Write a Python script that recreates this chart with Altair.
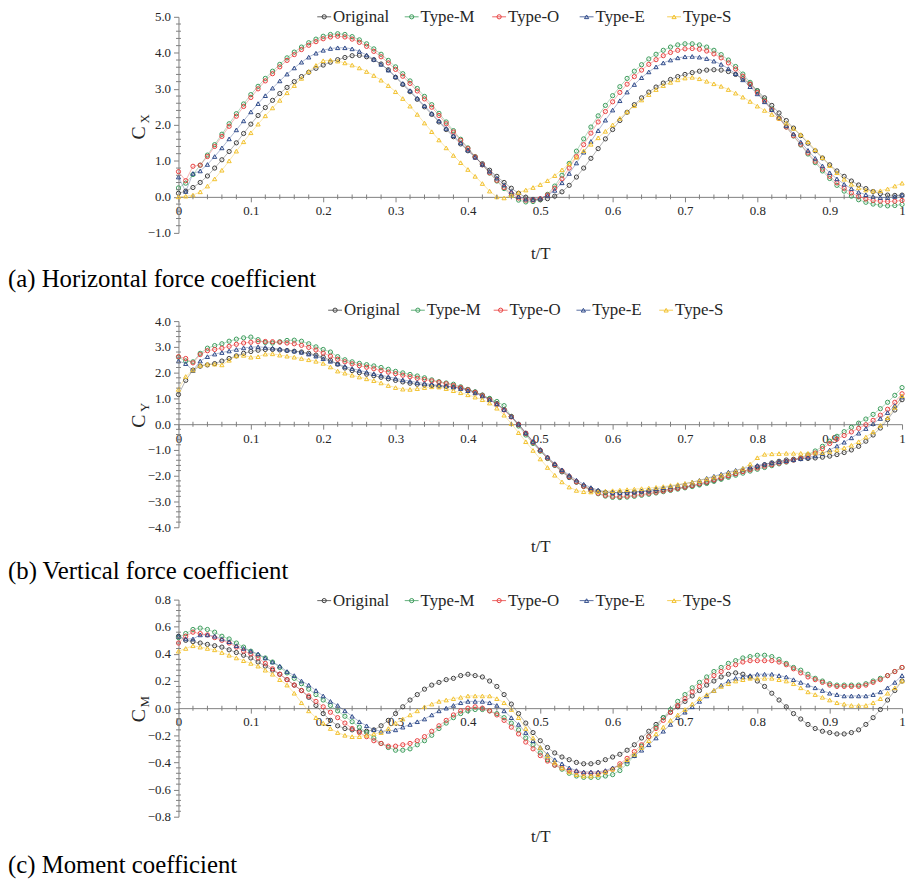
import altair as alt
import pandas as pd

# ------------------------------------------------------------------ data
T = [round(i * 0.01, 2) for i in range(101)]
SERIES = ["Original", "Type-M", "Type-O", "Type-E", "Type-S"]
COLORS = ["#3d3d3d", "#3c9c5b", "#e8403f", "#2f4a8a", "#f2c12e"]
SHAPES = ["circle", "circle", "circle", "triangle-up", "triangle-up"]
LEGEND_IDX = [0, 1, 2, 3, 4]

X_TICKS = [0, 0.1, 0.2, 0.3, 0.4, 0.5, 0.6, 0.7, 0.8, 0.9, 1.0]
X_MINOR = [round(i * 0.02, 2) for i in range(51) if i % 5]

CX_TICKS = [-1, 0, 1, 2, 3, 4, 5]
CX_MINOR = [round(-1 + i * 0.2, 2) for i in range(31) if i % 5]
CY_TICKS = [-4, -3, -2, -1, 0, 1, 2, 3, 4]
CY_MINOR = [round(-4 + i * 0.2, 2) for i in range(41) if i % 5]
CM_TICKS = [-0.8, -0.6, -0.4, -0.2, 0, 0.2, 0.4, 0.6, 0.8]
CM_MINOR = [round(-0.8 + i * 0.04, 2) for i in range(41) if i % 5]

# (a) horizontal force coefficient C_X
CX_ORIGINAL = [0.10, 0.16, 0.26, 0.40, 0.58, 0.80, 1.03, 1.26, 1.50, 1.76,
               2.02, 2.26, 2.48, 2.68, 2.87, 3.04, 3.20, 3.34, 3.46, 3.57,
               3.66, 3.74, 3.81, 3.87, 3.92, 3.93, 3.89, 3.81, 3.69, 3.53,
               3.32, 3.12, 2.92, 2.71, 2.50, 2.29, 2.08, 1.87, 1.67, 1.47,
               1.28, 1.10, 0.92, 0.74, 0.57, 0.40, 0.24, 0.10, -0.01, -0.07,
               -0.08, -0.05, 0.02, 0.14, 0.32, 0.55, 0.80, 1.07, 1.34, 1.61,
               1.87, 2.12, 2.35, 2.56, 2.75, 2.91, 3.05, 3.16, 3.26, 3.34,
               3.40, 3.45, 3.49, 3.52, 3.53, 3.52, 3.48, 3.40, 3.28, 3.13,
               2.95, 2.75, 2.54, 2.33, 2.12, 1.91, 1.70, 1.49, 1.28, 1.08,
               0.89, 0.72, 0.57, 0.44, 0.33, 0.23, 0.15, 0.09, 0.05, 0.04,
               0.05]
CX_TYPE_M = [0.25, 0.38, 0.62, 0.88, 1.16, 1.45, 1.74, 2.03, 2.31, 2.58,
             2.84, 3.07, 3.29, 3.49, 3.68, 3.86, 4.02, 4.16, 4.28, 4.38,
             4.46, 4.51, 4.53, 4.51, 4.45, 4.36, 4.25, 4.11, 3.96, 3.79,
             3.61, 3.42, 3.22, 3.01, 2.79, 2.56, 2.32, 2.08, 1.84, 1.60,
             1.36, 1.12, 0.89, 0.66, 0.44, 0.23, 0.04, -0.09, -0.14, -0.13,
             -0.07, 0.07, 0.30, 0.60, 0.93, 1.27, 1.61, 1.94, 2.25, 2.54,
             2.81, 3.06, 3.29, 3.49, 3.67, 3.83, 3.96, 4.07, 4.16, 4.22,
             4.25, 4.25, 4.22, 4.16, 4.07, 3.95, 3.80, 3.62, 3.41, 3.18,
             2.94, 2.69, 2.44, 2.19, 1.94, 1.69, 1.44, 1.19, 0.95, 0.72,
             0.51, 0.32, 0.16, 0.02, -0.08, -0.15, -0.20, -0.23, -0.25, -0.24,
             -0.21]
CX_TYPE_O = [0.70, 0.45, 0.85, 0.88, 1.12, 1.40, 1.68, 1.96, 2.24, 2.51,
             2.76, 3.00, 3.22, 3.42, 3.61, 3.79, 3.95, 4.09, 4.21, 4.31,
             4.39, 4.44, 4.46, 4.44, 4.38, 4.29, 4.18, 4.04, 3.89, 3.72,
             3.54, 3.35, 3.15, 2.94, 2.72, 2.49, 2.26, 2.03, 1.80, 1.57,
             1.34, 1.11, 0.89, 0.67, 0.46, 0.26, 0.09, -0.03, -0.09, -0.09,
             -0.05, 0.05, 0.24, 0.50, 0.80, 1.12, 1.45, 1.77, 2.08, 2.37,
             2.64, 2.90, 3.13, 3.34, 3.52, 3.68, 3.81, 3.92, 4.01, 4.07,
             4.11, 4.12, 4.10, 4.05, 3.97, 3.86, 3.72, 3.55, 3.35, 3.13,
             2.90, 2.66, 2.42, 2.18, 1.94, 1.70, 1.46, 1.22, 0.99, 0.77,
             0.57, 0.39, 0.24, 0.11, 0.01, -0.06, -0.10, -0.12, -0.13, -0.12,
             -0.10]
CX_TYPE_E = [0.55, 0.15, 0.65, 0.72, 0.90, 1.12, 1.36, 1.61, 1.86, 2.11,
             2.36, 2.59, 2.81, 3.02, 3.22, 3.41, 3.58, 3.74, 3.88, 3.99,
             4.07, 4.12, 4.14, 4.14, 4.11, 4.04, 3.94, 3.82, 3.68, 3.52,
             3.34, 3.15, 2.95, 2.74, 2.53, 2.32, 2.11, 1.90, 1.70, 1.50,
             1.30, 1.10, 0.90, 0.71, 0.52, 0.33, 0.15, 0.01, -0.06, -0.07,
             -0.04, 0.04, 0.18, 0.39, 0.65, 0.94, 1.24, 1.54, 1.84, 2.13,
             2.41, 2.67, 2.91, 3.12, 3.31, 3.47, 3.61, 3.72, 3.80, 3.86,
             3.89, 3.90, 3.88, 3.84, 3.77, 3.68, 3.56, 3.42, 3.25, 3.06,
             2.86, 2.64, 2.42, 2.20, 1.98, 1.75, 1.52, 1.29, 1.07, 0.86,
             0.67, 0.50, 0.35, 0.23, 0.13, 0.06, 0.01, -0.02, -0.02, 0.01,
             0.05]
CX_TYPE_S = [0.00, 0.02, 0.05, 0.14, 0.30, 0.50, 0.74, 1.00, 1.27, 1.53,
             1.78, 2.02, 2.25, 2.47, 2.68, 2.89, 3.09, 3.29, 3.48, 3.65,
             3.78, 3.80, 3.77, 3.72, 3.66, 3.58, 3.48, 3.37, 3.24, 3.09,
             2.92, 2.73, 2.52, 2.29, 2.05, 1.81, 1.58, 1.36, 1.15, 0.95,
             0.76, 0.57, 0.37, 0.16, 0.00, -0.03, 0.04, 0.12, 0.19, 0.26,
             0.34, 0.45, 0.59, 0.75, 0.92, 1.10, 1.28, 1.46, 1.64, 1.82,
             2.00, 2.18, 2.36, 2.53, 2.69, 2.84, 2.98, 3.09, 3.18, 3.25,
             3.30, 3.32, 3.28, 3.21, 3.14, 3.07, 2.98, 2.88, 2.77, 2.65,
             2.52, 2.40, 2.29, 2.18, 2.05, 1.90, 1.73, 1.53, 1.31, 1.09,
             0.87, 0.67, 0.49, 0.35, 0.25, 0.19, 0.16, 0.17, 0.22, 0.30,
             0.38]

# (b) vertical force coefficient C_Y
CY_ORIGINAL = [1.15, 1.70, 2.10, 2.25, 2.30, 2.35, 2.45, 2.55, 2.65, 2.75,
               2.82, 2.87, 2.90, 2.90, 2.88, 2.86, 2.83, 2.80, 2.75, 2.68,
               2.60, 2.48, 2.33, 2.18, 2.08, 2.00, 1.94, 1.88, 1.82, 1.76,
               1.70, 1.64, 1.59, 1.55, 1.52, 1.50, 1.48, 1.46, 1.44, 1.40,
               1.34, 1.25, 1.13, 0.98, 0.80, 0.57, 0.30, 0.00, -0.35, -0.70,
               -1.02, -1.32, -1.60, -1.85, -2.07, -2.25, -2.40, -2.52, -2.60, -2.65,
               -2.66, -2.66, -2.65, -2.64, -2.62, -2.60, -2.58, -2.55, -2.52, -2.48,
               -2.44, -2.39, -2.33, -2.26, -2.18, -2.10, -2.01, -1.92, -1.83, -1.74,
               -1.65, -1.57, -1.50, -1.44, -1.39, -1.36, -1.34, -1.33, -1.31, -1.28,
               -1.24, -1.18, -1.10, -1.00, -0.86, -0.66, -0.42, -0.15, 0.18, 0.55,
               0.95]
CY_TYPE_M = [2.60, 2.45, 2.42, 2.75, 2.95, 3.05, 3.12, 3.22, 3.30, 3.35,
             3.38, 3.28, 3.17, 3.15, 3.20, 3.25, 3.26, 3.22, 3.12, 3.00,
             2.90, 2.80, 2.62, 2.50, 2.42, 2.36, 2.31, 2.26, 2.20, 2.13,
             2.05, 1.99, 1.93, 1.87, 1.80, 1.72, 1.65, 1.60, 1.55, 1.45,
             1.35, 1.25, 1.12, 1.00, 0.88, 0.72, 0.30, -0.07, -0.42, -0.75,
             -1.05, -1.33, -1.58, -1.82, -2.04, -2.24, -2.42, -2.58, -2.70, -2.79,
             -2.84, -2.85, -2.83, -2.80, -2.76, -2.72, -2.67, -2.62, -2.57, -2.52,
             -2.47, -2.42, -2.36, -2.30, -2.22, -2.14, -2.06, -1.98, -1.90, -1.82,
             -1.75, -1.68, -1.61, -1.54, -1.47, -1.39, -1.30, -1.18, -1.04, -0.86,
             -0.66, -0.47, -0.29, -0.12, 0.04, 0.20, 0.38, 0.60, 0.85, 1.12,
             1.42]
CY_TYPE_O = [2.62, 2.55, 2.38, 2.70, 2.85, 2.90, 2.95, 3.02, 3.10, 3.15,
             3.18, 3.20, 3.21, 3.20, 3.18, 3.15, 3.12, 3.06, 2.98, 2.88,
             2.76, 2.64, 2.52, 2.42, 2.34, 2.27, 2.21, 2.15, 2.08, 2.02,
             1.96, 1.90, 1.84, 1.78, 1.73, 1.68, 1.63, 1.57, 1.50, 1.42,
             1.33, 1.23, 1.10, 0.95, 0.77, 0.55, 0.28, -0.02, -0.36, -0.70,
             -1.02, -1.31, -1.57, -1.81, -2.03, -2.23, -2.41, -2.56, -2.68, -2.76,
             -2.80, -2.81, -2.79, -2.76, -2.72, -2.68, -2.64, -2.59, -2.54, -2.49,
             -2.44, -2.38, -2.31, -2.24, -2.16, -2.08, -2.00, -1.92, -1.84, -1.77,
             -1.70, -1.63, -1.57, -1.51, -1.45, -1.39, -1.32, -1.23, -1.12, -0.95,
             -0.75, -0.58, -0.44, -0.30, -0.16, -0.02, 0.15, 0.35, 0.58, 0.85,
             1.18]
CY_TYPE_E = [2.45, 2.35, 2.08, 2.45, 2.62, 2.72, 2.78, 2.84, 2.90, 2.96,
             2.99, 3.00, 2.98, 2.95, 2.92, 2.88, 2.84, 2.79, 2.72, 2.64,
             2.54, 2.44, 2.34, 2.24, 2.16, 2.09, 2.02, 1.96, 1.90, 1.84,
             1.78, 1.72, 1.67, 1.62, 1.58, 1.54, 1.51, 1.48, 1.44, 1.38,
             1.30, 1.21, 1.09, 0.95, 0.78, 0.57, 0.30, 0.00, -0.34, -0.67,
             -0.98, -1.27, -1.53, -1.77, -1.98, -2.17, -2.33, -2.46, -2.56, -2.62,
             -2.65, -2.66, -2.65, -2.63, -2.60, -2.56, -2.51, -2.46, -2.41, -2.36,
             -2.31, -2.25, -2.18, -2.10, -2.02, -1.94, -1.86, -1.79, -1.72, -1.66,
             -1.60, -1.55, -1.50, -1.46, -1.42, -1.38, -1.34, -1.29, -1.23, -1.14,
             -1.00, -0.85, -0.70, -0.53, -0.35, -0.17, 0.02, 0.22, 0.45, 0.72,
             1.05]
CY_TYPE_S = [1.35, 1.85, 2.10, 2.28, 2.33, 2.33, 2.30, 2.48, 2.65, 2.67,
             2.60, 2.62, 2.72, 2.73, 2.68, 2.64, 2.60, 2.55, 2.50, 2.44,
             2.36, 2.22, 2.06, 1.98, 1.90, 1.83, 1.76, 1.69, 1.60, 1.50,
             1.42, 1.36, 1.35, 1.38, 1.42, 1.45, 1.44, 1.38, 1.30, 1.22,
             1.14, 1.05, 0.95, 0.82, 0.62, 0.35, 0.02, -0.33, -0.68, -1.02,
             -1.35, -1.68, -1.98, -2.24, -2.44, -2.57, -2.62, -2.63, -2.62, -2.60,
             -2.58, -2.56, -2.54, -2.52, -2.50, -2.48, -2.45, -2.42, -2.38, -2.34,
             -2.30, -2.25, -2.19, -2.12, -2.05, -1.98, -1.90, -1.82, -1.72, -1.55,
             -1.30, -1.17, -1.15, -1.14, -1.13, -1.13, -1.13, -1.13, -1.12, -1.10,
             -1.06, -1.00, -0.92, -0.82, -0.68, -0.50, -0.30, -0.05, 0.25, 0.65,
             1.10]

# (c) moment coefficient C_M
CM_ORIGINAL = [0.53, 0.50, 0.49, 0.48, 0.47, 0.46, 0.45, 0.43, 0.41, 0.39,
               0.37, 0.34, 0.31, 0.28, 0.25, 0.21, 0.17, 0.13, 0.08, 0.02,
               -0.04, -0.09, -0.13, -0.15, -0.16, -0.17, -0.17, -0.16, -0.13, -0.09,
               -0.04, 0.01, 0.06, 0.10, 0.14, 0.17, 0.19, 0.21, 0.22, 0.24,
               0.25, 0.24, 0.23, 0.20, 0.16, 0.10, 0.03, -0.04, -0.11, -0.18,
               -0.24, -0.29, -0.33, -0.36, -0.38, -0.40, -0.41, -0.41, -0.40, -0.38,
               -0.36, -0.34, -0.31, -0.27, -0.22, -0.17, -0.12, -0.07, -0.03, 0.01,
               0.05, 0.09, 0.13, 0.17, 0.20, 0.23, 0.25, 0.26, 0.25, 0.23,
               0.20, 0.16, 0.11, 0.06, 0.01, -0.04, -0.08, -0.12, -0.15, -0.17,
               -0.18, -0.19, -0.19, -0.18, -0.16, -0.12, -0.07, -0.01, 0.06, 0.13,
               0.20]
CM_TYPE_M = [0.52, 0.55, 0.58, 0.59, 0.58, 0.56, 0.53, 0.51, 0.48, 0.45,
             0.42, 0.39, 0.37, 0.34, 0.30, 0.26, 0.22, 0.18, 0.14, 0.10,
             0.06, 0.02, -0.02, -0.06, -0.10, -0.14, -0.18, -0.22, -0.26, -0.29,
             -0.31, -0.31, -0.30, -0.27, -0.24, -0.20, -0.15, -0.11, -0.07, -0.04,
             -0.02, -0.01, -0.01, -0.02, -0.04, -0.07, -0.11, -0.16, -0.22, -0.27,
             -0.33, -0.38, -0.42, -0.45, -0.48, -0.50, -0.51, -0.51, -0.51, -0.50,
             -0.49, -0.46, -0.41, -0.35, -0.28, -0.21, -0.14, -0.07, -0.01, 0.05,
             0.10, 0.15, 0.19, 0.23, 0.27, 0.30, 0.33, 0.35, 0.37, 0.38,
             0.39, 0.39, 0.38, 0.36, 0.33, 0.30, 0.28, 0.25, 0.22, 0.20,
             0.18, 0.17, 0.17, 0.17, 0.17, 0.18, 0.20, 0.22, 0.24, 0.27,
             0.30]
CM_TYPE_O = [0.48, 0.53, 0.56, 0.55, 0.54, 0.52, 0.50, 0.48, 0.45, 0.42,
             0.40, 0.37, 0.33, 0.29, 0.25, 0.21, 0.17, 0.13, 0.09, 0.05,
             0.01, -0.03, -0.07, -0.11, -0.15, -0.18, -0.21, -0.24, -0.26, -0.28,
             -0.28, -0.27, -0.26, -0.24, -0.21, -0.17, -0.13, -0.09, -0.05, -0.02,
             0.00, 0.01, 0.00, -0.02, -0.05, -0.09, -0.14, -0.19, -0.25, -0.30,
             -0.35, -0.39, -0.42, -0.44, -0.46, -0.47, -0.48, -0.48, -0.48, -0.47,
             -0.45, -0.41, -0.37, -0.32, -0.27, -0.21, -0.15, -0.09, -0.03, 0.02,
             0.07, 0.12, 0.16, 0.20, 0.24, 0.27, 0.30, 0.32, 0.34, 0.35,
             0.35, 0.35, 0.35, 0.34, 0.32, 0.29, 0.26, 0.23, 0.21, 0.19,
             0.17, 0.16, 0.16, 0.16, 0.16, 0.17, 0.19, 0.21, 0.24, 0.27,
             0.30]
CM_TYPE_E = [0.53, 0.51, 0.51, 0.54, 0.54, 0.53, 0.51, 0.49, 0.46, 0.44,
             0.42, 0.40, 0.37, 0.34, 0.31, 0.27, 0.24, 0.20, 0.17, 0.13,
             0.09, 0.05, 0.02, -0.02, -0.06, -0.10, -0.13, -0.16, -0.17, -0.17,
             -0.16, -0.14, -0.12, -0.10, -0.08, -0.05, -0.02, 0.00, 0.02, 0.04,
             0.05, 0.05, 0.05, 0.04, 0.02, -0.02, -0.07, -0.12, -0.18, -0.24,
             -0.29, -0.34, -0.38, -0.41, -0.44, -0.46, -0.47, -0.47, -0.47, -0.46,
             -0.44, -0.42, -0.39, -0.35, -0.31, -0.27, -0.22, -0.17, -0.12, -0.07,
             -0.03, 0.01, 0.05, 0.09, 0.13, 0.17, 0.20, 0.22, 0.23, 0.24,
             0.25, 0.25, 0.25, 0.24, 0.23, 0.21, 0.19, 0.17, 0.15, 0.13,
             0.11, 0.10, 0.09, 0.09, 0.09, 0.09, 0.10, 0.12, 0.15, 0.19,
             0.24]
CM_TYPE_S = [0.42, 0.44, 0.46, 0.45, 0.44, 0.43, 0.41, 0.39, 0.37, 0.35,
             0.33, 0.31, 0.28, 0.25, 0.21, 0.17, 0.11, 0.04, -0.02, -0.07,
             -0.11, -0.15, -0.18, -0.20, -0.21, -0.21, -0.20, -0.19, -0.18, -0.15,
             -0.11, -0.08, -0.05, -0.02, 0.01, 0.03, 0.05, 0.06, 0.07, 0.08,
             0.09, 0.09, 0.09, 0.09, 0.07, 0.04, -0.01, -0.07, -0.15, -0.22,
             -0.29, -0.35, -0.40, -0.44, -0.47, -0.49, -0.50, -0.50, -0.49, -0.47,
             -0.45, -0.42, -0.38, -0.34, -0.29, -0.24, -0.19, -0.14, -0.09, -0.05,
             -0.01, 0.03, 0.07, 0.10, 0.13, 0.16, 0.18, 0.20, 0.21, 0.22,
             0.22, 0.22, 0.22, 0.21, 0.20, 0.18, 0.15, 0.12, 0.10, 0.08,
             0.06, 0.04, 0.03, 0.02, 0.02, 0.02, 0.04, 0.07, 0.11, 0.15,
             0.20]

CX = [CX_ORIGINAL, CX_TYPE_M, CX_TYPE_O, CX_TYPE_E, CX_TYPE_S]
CY = [CY_ORIGINAL, CY_TYPE_M, CY_TYPE_O, CY_TYPE_E, CY_TYPE_S]
CM = [CM_ORIGINAL, CM_TYPE_M, CM_TYPE_O, CM_TYPE_E, CM_TYPE_S]

# ------------------------------------------------------------------ style
FONT = "Liberation Serif"
AX = "#7f7f7f"
INK = "#262626"
W = 730


def one(text):
    return alt.Chart(pd.DataFrame({"s": [text]}))


def panel(arrays, ymin, ymax, yticks, yminor, H, sub, caption, cap_y,
          leg_y, leg_range, title_y, c_y, spacer_y=None):
    rows = []
    for name, vals in zip(SERIES, arrays):
        for t, v in zip(T, vals):
            rows.append({"series": name, "t": t, "v": v})
    df = pd.DataFrame(rows)

    xs = alt.Scale(domain=[0, 1], nice=False, zero=False)
    ys = alt.Scale(domain=[ymin, ymax], nice=False, zero=False)
    color = alt.Color("series:N", scale=alt.Scale(domain=SERIES, range=COLORS), legend=None)
    shape = alt.Shape("series:N", scale=alt.Scale(domain=SERIES, range=SHAPES), legend=None)
    zero_off = -H * (0 - ymin) / (ymax - ymin)

    xaxis = alt.Axis(values=X_TICKS, labelExpr="format(datum.value, '.1~f')",
                     offset=zero_off, title="t/T", titleY=title_y,
                     titleBaseline="middle", titleFontSize=17,
                     titleFontWeight="normal", titleColor=INK, titleFont=FONT,
                     labelFont=FONT, labelFontSize=13, labelColor=INK,
                     labelPadding=3, tickSize=5, tickColor=AX, domainColor=AX,
                     grid=False, labelFlush=False, labelOverlap=False)

    def yaxis():
        return alt.Axis(values=yticks, format=".1f", title=None, labelFont=FONT,
                        labelFontSize=13, labelColor=INK, labelPadding=3,
                        tickSize=5, tickColor=AX, domainColor=AX, grid=False,
                        labelFlush=False, labelOverlap=False)

    base = alt.Chart(df)
    lines = base.mark_line(strokeWidth=0.7, opacity=0.55).encode(
        x=alt.X("t:Q", scale=xs, axis=xaxis),
        y=alt.Y("v:Q", scale=ys, axis=yaxis()),
        color=color)
    pts = base.mark_point(filled=False, size=18, strokeWidth=1, opacity=1).encode(
        x=alt.X("t:Q", scale=xs, axis=None),
        y=alt.Y("v:Q", scale=ys, axis=yaxis()),
        color=color, shape=shape)

    xminor = alt.Chart(pd.DataFrame({"t": X_MINOR})).mark_tick(
        orient="vertical", size=5, thickness=1, color=AX, opacity=1).encode(
        x=alt.X("t:Q", scale=xs, axis=None),
        y=alt.YDatum(0, scale=ys, axis=yaxis()))
    yminor_l = alt.Chart(pd.DataFrame({"v": yminor})).mark_tick(
        orient="horizontal", size=5, thickness=1, color=AX, opacity=1).encode(
        y=alt.Y("v:Q", scale=ys, axis=yaxis()),
        x=alt.value(0))

    leg = alt.Chart(pd.DataFrame({"series": SERIES, "idx": LEGEND_IDX}))
    lx = alt.X("idx:Q", scale=alt.Scale(domain=[0, 4], range=leg_range), axis=None)
    leg_line = leg.mark_tick(orient="horizontal", size=14, thickness=1, opacity=0.8).encode(
        x=lx, y=alt.value(leg_y), color=color)
    leg_pt = leg.mark_point(filled=False, size=18, strokeWidth=1, opacity=1).encode(
        x=lx, y=alt.value(leg_y), color=color, shape=shape)
    leg_txt = leg.mark_text(align="left", baseline="middle", dx=9, fontSize=17,
                            font=FONT, color=INK).encode(
        x=lx, y=alt.value(leg_y), text="series:N")

    c_txt = one("C").mark_text(angle=270, fontSize=20, font=FONT, color=INK,
                               align="center", baseline="middle").encode(
        text="s:N", x=alt.value(-40), y=alt.value(c_y))
    s_txt = one(sub).mark_text(angle=270, fontSize=13, font=FONT, color=INK,
                               align="center", baseline="middle").encode(
        text="s:N", x=alt.value(-34), y=alt.value(c_y - 14))
    cap = one(caption).mark_text(align="left", baseline="alphabetic", fontSize=25,
                                 font=FONT, color="#000000").encode(
        text="s:N", x=alt.value(-172), y=alt.value(cap_y))

    layers = [lines, pts, xminor, yminor_l, leg_line, leg_pt, leg_txt, c_txt, s_txt, cap]
    if spacer_y is not None:
        layers.append(one("").mark_rule(color="white", strokeWidth=1).encode(
            x=alt.value(0), x2=alt.value(2), y=alt.value(spacer_y)))
    return alt.layer(*layers).resolve_scale(x="independent").properties(width=W, height=H)


pa = panel(CX, -1, 5, CX_TICKS, CX_MINOR, 218, "X",
           "(a) Horizontal force coefficient", 273, 0, [147, 500], 57, 117)
pb = panel(CY, -4, 4, CY_TICKS, CY_MINOR, 208, "Y",
           "(b) Vertical force coefficient", 260, -11, [158, 492], 123, 101, spacer_y=-20.5)
pc = panel(CM, -0.8, 0.8, CM_TICKS, CM_MINOR, 219, "M",
           "(c) Moment coefficient", 276, 1, [147, 500], 129.5, 117)

chart = alt.vconcat(pa, pb, pc, spacing=8).properties(
    padding={"top": -4, "left": 0, "right": 0, "bottom": 0}, background="white"
).configure(font=FONT).configure_view(stroke=None)

chart.save("out.html", embed_options={"renderer": "svg", "actions": False})
